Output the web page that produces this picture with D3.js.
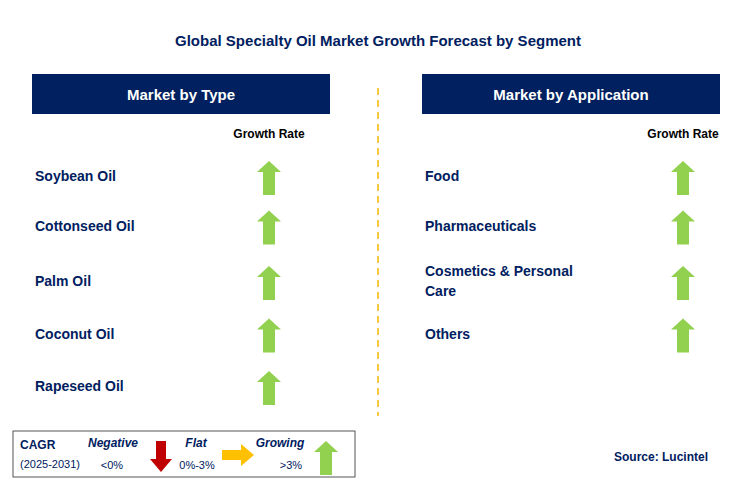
<!DOCTYPE html>
<html><head><meta charset="utf-8">
<script src="https://cdn.jsdelivr.net/npm/d3@7"></script>
<style>body{margin:0;background:#fff}text{font-family:Arial,"Liberation Sans",sans-serif}</style>
</head><body>
<script>
const title = "Global Specialty Oil Market Growth Forecast by Segment";
const typeLabels = ["Soybean Oil", "Cottonseed Oil", "Palm Oil", "Coconut Oil", "Rapeseed Oil"];
const typeGrowth = ["up", "up", "up", "up", "up"];
const appLabels = [["Food"], ["Pharmaceuticals"], ["Cosmetics & Personal", "Care"], ["Others"]];
const appGrowth = ["up", "up", "up", "up"];

const svg = d3.select("body").append("svg").attr("width", 739).attr("height", 492);
const navy = "#002060", green = "#92d050";

svg.append("text").attr("x", 378).attr("y", 46).attr("text-anchor", "middle")
  .attr("font-size", 15).attr("font-weight", "bold").attr("fill", navy).text(title);

const y = d3.scalePoint().domain(d3.range(5)).range([176, 386]);

function upArrow(g, cx, cy) {
  // 24 wide, 34 tall
  g.append("path").attr("fill", green)
    .attr("d", `M${cx},${cy - 17} L${cx + 12},${cy - 6} L${cx + 6},${cy - 6} L${cx + 6},${cy + 17} L${cx - 6},${cy + 17} L${cx - 6},${cy - 6} L${cx - 12},${cy - 6} Z`);
}

function panel(x0, head, labels, growth, arrowX) {
  const g = svg.append("g");
  g.append("rect").attr("x", x0).attr("y", 74).attr("width", 298).attr("height", 40).attr("fill", navy);
  g.append("text").attr("x", x0 + 149).attr("y", 100).attr("text-anchor", "middle")
    .attr("fill", "#fff").attr("font-size", 15).attr("font-weight", "bold").text(head);
  g.append("text").attr("x", arrowX).attr("y", 138).attr("text-anchor", "middle")
    .attr("font-size", 12).attr("font-weight", "bold").attr("fill", "#000").text("Growth Rate");
  labels.forEach((lab, i) => {
    const lines = Array.isArray(lab) ? lab : [lab];
    const cy = y(i) - (i === 1 ? 3 : 0);
    lines.forEach((l, j) => {
      g.append("text").attr("x", x0 + 3).attr("y", cy + 5 + (j - (lines.length - 1) / 2) * 20)
        .attr("font-size", 14).attr("font-weight", "bold").attr("fill", navy).text(l);
    });
    if (growth[i] === "up") upArrow(g, arrowX, cy + 2);
  });
}
panel(32, "Market by Type", typeLabels, typeGrowth, 269);
panel(422, "Market by Application", appLabels, appGrowth, 683);

svg.append("line").attr("x1", 378).attr("x2", 378).attr("y1", 88).attr("y2", 416)
  .attr("stroke", "#f5b800").attr("stroke-width", 1.5).attr("stroke-dasharray", "7,5");

// legend
const lg = svg.append("g");
lg.append("rect").attr("x", 13).attr("y", 431).attr("width", 342).attr("height", 46)
  .attr("fill", "#fff").attr("stroke", "#555").attr("stroke-width", 1);
lg.append("text").attr("x", 20).attr("y", 449).attr("font-size", 12).attr("font-weight", "bold").attr("fill", navy).text("CAGR");
lg.append("text").attr("x", 20).attr("y", 468).attr("font-size", 11).attr("fill", navy).text("(2025-2031)");
[["Negative", 113, "<0%", 112], ["Flat", 196, "0%-3%", 197], ["Growing", 280, ">3%", 291]].forEach(d => {
  lg.append("text").attr("x", d[1]).attr("y", 447).attr("text-anchor", "middle").attr("font-size", 12)
    .attr("font-weight", "bold").attr("font-style", "italic").attr("fill", navy).text(d[0]);
  lg.append("text").attr("x", d[3]).attr("y", 469).attr("text-anchor", "middle").attr("font-size", 11)
    .attr("fill", navy).text(d[2]);
});
lg.append("path").attr("fill", "#c00000")
  .attr("d", "M156,441 L166,441 L166,459 L172,459 L161,472 L150,459 L156,459 Z");
lg.append("path").attr("fill", "#ffc000")
  .attr("d", "M222,450 L241,450 L241,444 L254,455 L241,466 L241,460 L222,460 Z");
upArrow(lg, 326, 458);

svg.append("text").attr("x", 708).attr("y", 461).attr("text-anchor", "end").attr("font-size", 12)
  .attr("font-weight", "bold").attr("fill", navy).text("Source: Lucintel");
</script>
</body></html>
